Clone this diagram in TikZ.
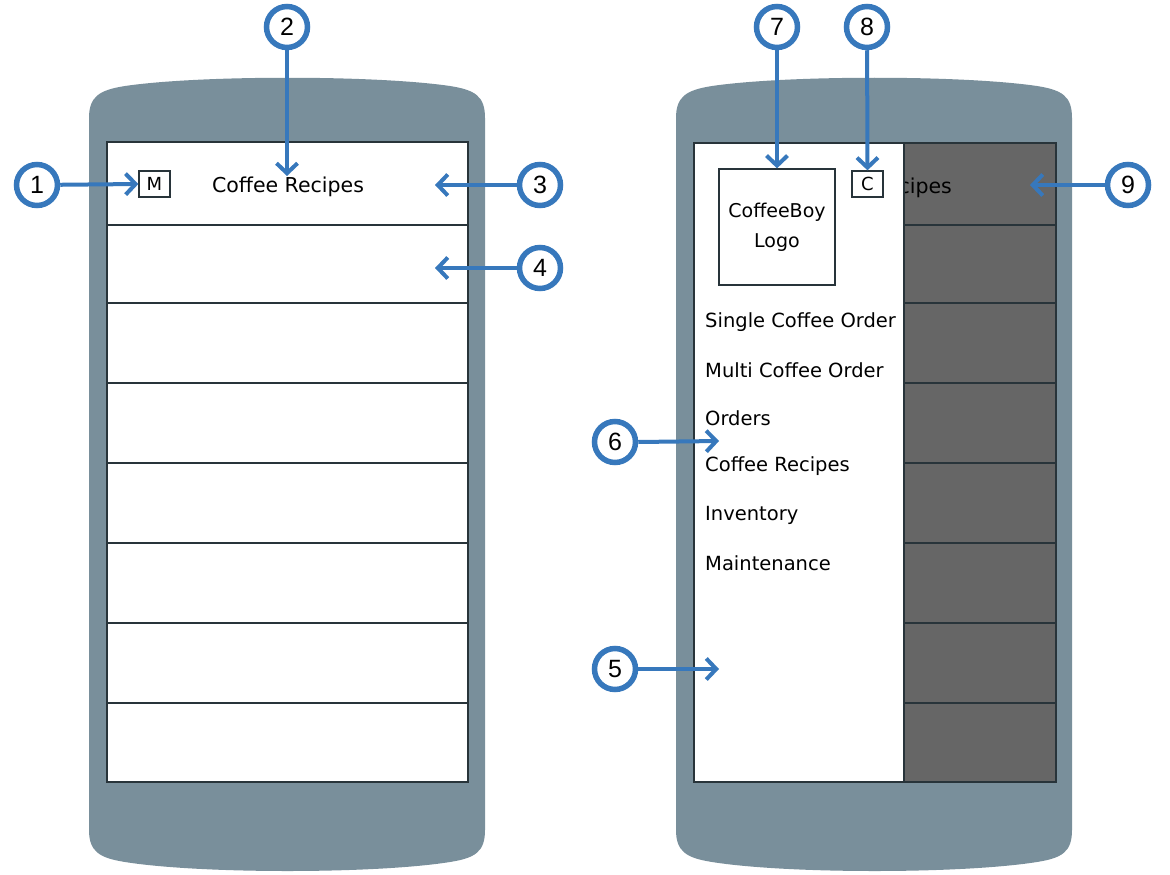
\documentclass[tikz,border=0pt]{standalone}
\usepackage{fontspec}
\setmainfont{DejaVu Sans}
\newfontfamily\numfont{Liberation Sans}
\usetikzlibrary{arrows.meta}
\definecolor{phonegray}{RGB}{121,143,155}
\definecolor{callblue}{RGB}{55,120,188}
\definecolor{edgecol}{RGB}{40,52,58}
\definecolor{shadecol}{RGB}{102,102,102}
\begin{document}
\begin{tikzpicture}[x=1pt,y=-1pt,
  phonebody/.style={fill=phonegray},
  screenbox/.style={draw=edgecol,line width=1.6pt,fill=white},
  rowline/.style={draw=edgecol,line width=1.4pt},
  uitext/.style={font=\fontsize{19.5}{21}\selectfont,inner sep=0pt},
  smallbox/.style={draw=edgecol,line width=1.3pt,fill=white,minimum width=31pt,minimum height=26pt,inner sep=0pt,font=\fontsize{18}{18}\selectfont},
  callout/.style={circle,draw=callblue,line width=5.5pt,fill=white,minimum size=41pt,inner sep=0pt,font=\numfont\fontsize{25}{25}\selectfont},
  arr/.style={draw=callblue,line width=4pt,-{Straight Barb[length=10pt,width=21pt,line width=4pt]}}
]
\useasboundingbox (0,0) rectangle (1170,875);
% phone bodies
\foreach \dx in {0,587}{
\begin{scope}[xshift=\dx]
\fill[phonebody] (89,118) .. controls (89,96) and (100,90) .. (125,86)
  .. controls (200,75) and (375,75) .. (450,86)
  .. controls (475,90) and (485,96) .. (485,118) -- (485,830)
  .. controls (485,852) and (475,858) .. (450,862)
  .. controls (375,874) and (200,874) .. (125,862)
  .. controls (100,858) and (89,852) .. (89,830) -- cycle;
\end{scope}}
% left screen
\draw[screenbox] (107,142) rectangle (468,782);
\foreach \y in {225,303,383,463,543,623,703}{\draw[rowline] (107,\y) -- (468,\y);}
\node[smallbox] (mbox) at (154.5,184) {M};
\node[uitext,font=\fontsize{20.5}{22}\selectfont] (title) at (288,187) {Coffee Recipes};
\coordinate (t2) at (287,176);
\coordinate (t3) at (435,185);
\coordinate (t4) at (435,268);
% right screen
\filldraw[fill=shadecol,draw=edgecol,line width=1.6pt] (694,143) rectangle (1056,782);
\foreach \y in {225,303,383,463,543,623,703}{\draw[rowline] (904,\y) -- (1056,\y);}
\begin{scope}
\clip (904,143) rectangle (1056,225);
\node[uitext,font=\fontsize{20.5}{22}\selectfont,anchor=base east] (title2) at (952,193) {cipes};
\end{scope}
\filldraw[fill=white,draw=edgecol,line width=1.3pt] (694,143) rectangle (904,782);
\node[draw=edgecol,line width=1.3pt,minimum width=116pt,minimum height=116pt,inner sep=0pt,align=center,font=\fontsize{19}{30}\selectfont] (logo) at (777,227) {CoffeeBoy\\Logo};
\node[smallbox] (cbox) at (867.5,184) {C};
\node[uitext,anchor=west] (m1) at (705,322) {Single Coffee Order};
\node[uitext,anchor=west] (m2) at (705,370) {Multi Coffee Order};
\node[uitext,anchor=west] (m3) at (705,418) {Orders};
\node[uitext,anchor=west] (m4) at (705,466) {Coffee Recipes};
\node[uitext,anchor=west] (m5) at (705,515) {Inventory};
\node[uitext,anchor=west] (m6) at (705,563) {Maintenance};
\coordinate (t5) at (719,669);
\coordinate (t6) at (719,441);
\coordinate (t9) at (1030,185);
% callouts
\node[callout] (c1) at (37,185) {1};
\node[callout] (c2) at (287,27) {2};
\node[callout] (c3) at (540,185) {3};
\node[callout] (c4) at (540,268) {4};
\node[callout] (c5) at (615,669) {5};
\node[callout] (c6) at (615,442) {6};
\node[callout] (c7) at (777,27) {7};
\node[callout] (c8) at (867,27) {8};
\node[callout] (c9) at (1128,185) {9};
\draw[arr] (c1) -- (mbox.west);
\draw[arr] (c2) -- (t2);
\draw[arr] (c3) -- (t3);
\draw[arr] (c4) -- (t4);
\draw[arr] (c5) -- (t5);
\draw[arr] (c6.east) -- (t6);
\draw[arr] (c7) -- (logo.north);
\draw[arr] (c8) -- (cbox.north);
\draw[arr] (c9) -- (t9);
\end{tikzpicture}
\end{document}
